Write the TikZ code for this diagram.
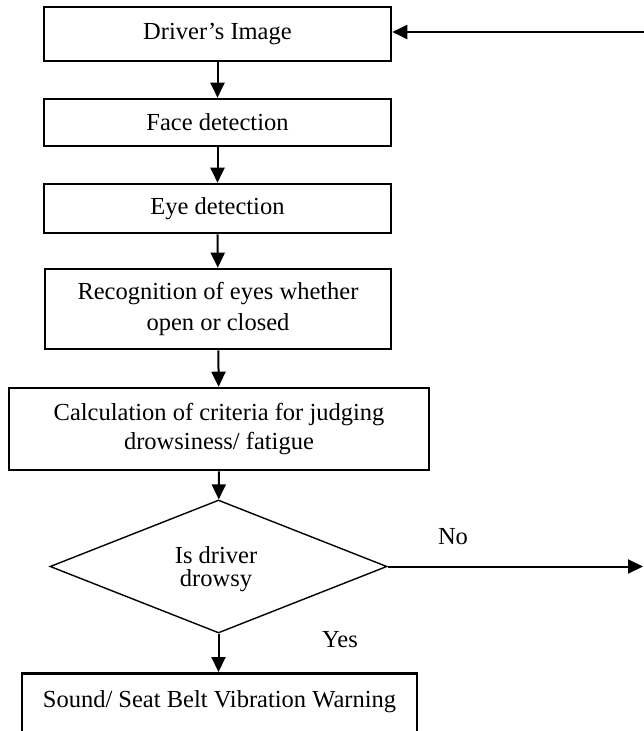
\documentclass[tikz,border=0pt]{standalone}
\usepackage{fontspec}
\setmainfont{Liberation Serif}
\usetikzlibrary{shapes.geometric,arrows.meta}
\begin{document}
\begin{tikzpicture}[x=1pt,y=-1pt,
  procbox/.style={draw,line width=2.6pt,rectangle,inner sep=0pt,align=center,
    font=\fontsize{24.5}{31}\selectfont},
  flow/.style={line width=2pt,-{Triangle[length=15pt,width=14pt]}},
  lbl/.style={font=\fontsize{24.5}{28}\selectfont,inner sep=0pt}]
\clip (0,0) rectangle (644,731);
\fill[white] (0,0) rectangle (644,731);
\node[procbox,minimum width=347pt,minimum height=54pt] (b1) at (217.5,34) {\raisebox{-2pt}{Driver’s Image}};
\node[procbox,minimum width=347pt,minimum height=47pt] (b2) at (217.5,122.5) {\raisebox{-2pt}{Face detection}};
\node[procbox,minimum width=347pt,minimum height=49pt] (b3) at (217.5,208.5) {\raisebox{-2pt}{Eye detection}};
\node[procbox,minimum width=346pt,minimum height=80pt] (b4) at (218,309) {Recognition of eyes whether\\open or closed};
\node[procbox,minimum width=420pt,minimum height=82pt,font=\fontsize{24.5}{29}\selectfont] (b5) at (219,429) {Calculation of criteria for judging\\drowsiness/ fatigue};
\node[draw,diamond,line width=1.4pt,minimum width=337pt,minimum height=133pt,inner sep=0pt] (d) at (218.5,566.5) {};
\node[align=center,inner sep=0pt,font=\fontsize{24.5}{23.5}\selectfont] (dt) at (216,569) {Is driver\\drowsy};
\node[procbox,minimum width=395pt,anchor=north,inner ysep=17pt,text height=17pt,text depth=60pt] (b6) at (219.5,672) {Sound/ Seat Belt Vibration Warning};
\coordinate (in) at (644,32);
\coordinate (out) at (643,566.5);
\draw[flow] (in) -- (b1.east |- in);
\draw[flow] (b1) -- (b2);
\draw[flow] (b2) -- (b3);
\draw[flow] (b3) -- (b4);
\draw[flow] (b4) -- (b5);
\draw[flow] (b5) -- (d);
\draw[flow] (d.east) -- (d.east -| out);
\draw[flow] (d.south) -- (d.south |- b6.north);
\node[lbl] (no) at (453,537) {No};
\node[lbl] (yes) at (340,640) {Yes};
\end{tikzpicture}
\end{document}
